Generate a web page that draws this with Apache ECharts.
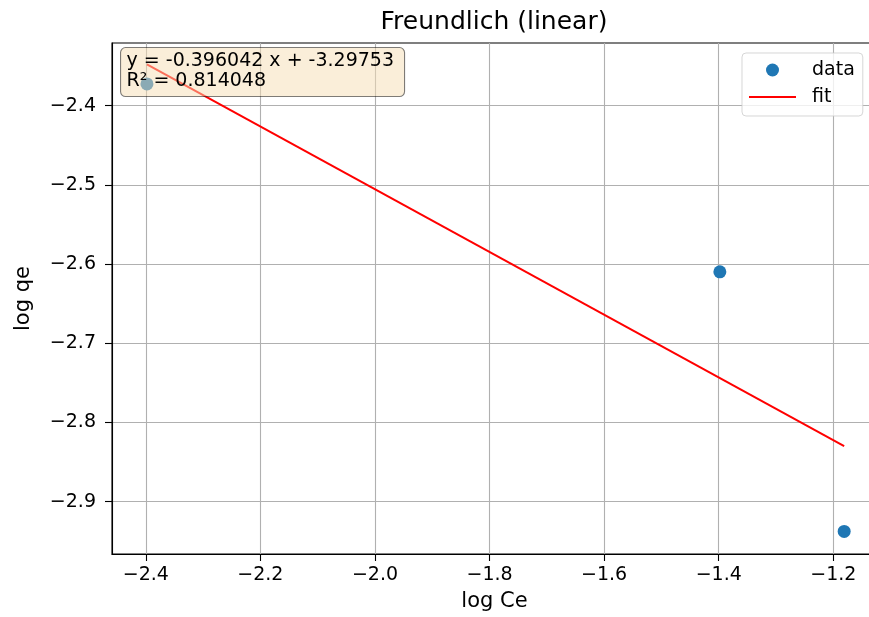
<!DOCTYPE html>
<html>
<head>
<meta charset="utf-8">
<title>Freundlich (linear)</title>
<script src="https://cdn.jsdelivr.net/npm/echarts@6/dist/echarts.min.js"></script>
<style>
  html, body { margin: 0; padding: 0; background: #fff; }
  #chart { width: 869px; height: 617px; }
</style>
</head>
<body>
<div id="chart"></div>
<script>
// Freundlich isotherm, linearised: log qe against log Ce
const logCe = [-2.398, -1.398, -1.181];
const logQe = [-2.3725, -2.6097, -2.9375];

// Least-squares fit reported for this data set
const fitSlope = -0.396042;
const fitIntercept = -3.29753;
const fitR2 = 0.814048;

// Tick positions on both axes
const xTicks = [-2.4, -2.2, -2.0, -1.8, -1.6, -1.4, -1.2];
const yTicks = [-2.9, -2.8, -2.7, -2.6, -2.5, -2.4];

// Visible axis span
const xRange = [-2.459, -1.1237];
const yRange = [-2.966, -2.3208];

const FONT = 'DejaVu Sans';
const minus = v => String(v.toFixed(1)).replace('-', '\u2212');

const scatterData = logCe.map((x, i) => [x, logQe[i]]);
const xLo = Math.min(...logCe), xHi = Math.max(...logCe);
const fitData = [xLo, xHi].map(x => [x, fitSlope * x + fitIntercept]);

const eqText = 'y = ' + fitSlope.toPrecision(6) + ' x + ' + fitIntercept.toPrecision(6) +
  '\nR\u00b2 = ' + fitR2.toPrecision(6);

const chart = echarts.init(document.getElementById('chart'), null, { renderer: 'canvas' });

chart.setOption({
  animation: false,
  backgroundColor: '#fff',
  textStyle: { fontFamily: FONT },
  title: {
    text: 'Freundlich (linear)',
    left: 489, top: 5, textAlign: 'center',
    textStyle: { fontFamily: FONT, fontSize: 25, fontWeight: 'normal', color: '#000' }
  },
  // the axes box runs a little past the right edge of the canvas
  grid: {
    left: 112, top: 43, width: 765, bottom: 63,
    outerBoundsMode: 'none', containLabel: false,
    show: true, borderColor: '#000', borderWidth: 1.1, backgroundColor: 'transparent'
  },
  legend: {
    left: 742, top: 53,
    orient: 'vertical',
    itemWidth: 47, itemHeight: 13, itemGap: 7,
    padding: [7, 8, 9, 7],
    backgroundColor: 'rgba(255,255,255,0.8)',
    borderColor: 'rgba(204,204,204,0.8)', borderWidth: 1, borderRadius: 4,
    textStyle: { fontFamily: FONT, fontSize: 19, color: '#000', lineHeight: 20, padding: [0, 0, 0, 11] },
    data: [
      { name: 'data', icon: 'circle' },
      { name: 'fit', icon: 'path://M0,0 L47,0 L47,2 L0,2 Z' }
    ]
  },
  xAxis: {
    type: 'value', min: xRange[0], max: xRange[1],
    name: 'log Ce', nameLocation: 'middle', nameGap: 37,
    nameTextStyle: { fontFamily: FONT, fontSize: 21, color: '#000' },
    axisLine: { show: true, onZero: false, lineStyle: { color: '#000', width: 1.1 } },
    axisTick: { show: true, length: 7, customValues: xTicks, lineStyle: { color: '#000', width: 1.1 } },
    axisLabel: { customValues: xTicks, formatter: v => minus(v), margin: 12,
      fontFamily: FONT, fontSize: 19, color: '#000' },
    splitLine: { show: true, lineStyle: { color: '#b0b0b0', width: 1.1 } }
  },
  yAxis: {
    type: 'value', min: yRange[0], max: yRange[1],
    name: 'log qe', nameLocation: 'middle', nameGap: 78, nameRotate: 90,
    nameTextStyle: { fontFamily: FONT, fontSize: 21, color: '#000' },
    axisLine: { show: true, onZero: false, lineStyle: { color: '#000', width: 1.1 } },
    axisTick: { show: true, length: 7, customValues: yTicks, lineStyle: { color: '#000', width: 1.1 } },
    axisLabel: { customValues: yTicks, formatter: v => minus(v), margin: 16,
      fontFamily: FONT, fontSize: 19, color: '#000' },
    splitLine: { show: true, lineStyle: { color: '#b0b0b0', width: 1.1 } }
  },
  series: [
    {
      name: 'data', type: 'scatter',
      data: scatterData,
      symbolSize: 13,
      itemStyle: { color: '#1f77b4', opacity: 1 },
      z: 3
    },
    {
      name: 'fit', type: 'line',
      data: fitData,
      symbol: 'none',
      lineStyle: { color: '#ff0000', width: 2 },
      itemStyle: { color: '#ff0000' },
      z: 2
    }
  ],
  graphic: [
    {
      type: 'group', left: 120, top: 47, z: 100,
      children: [
        {
          type: 'rect', z: 100,
          shape: { x: 0, y: 0, width: 284, height: 49, r: 5 },
          style: { fill: 'rgba(245,222,179,0.5)', stroke: 'rgba(0,0,0,0.5)', lineWidth: 1.1 }
        },
        {
          type: 'text', x: 6, y: 4, z: 101,
          style: { text: eqText, fontFamily: FONT, fontSize: 19, lineHeight: 20, fill: '#000' }
        }
      ]
    }
  ]
});
</script>
</body>
</html>
